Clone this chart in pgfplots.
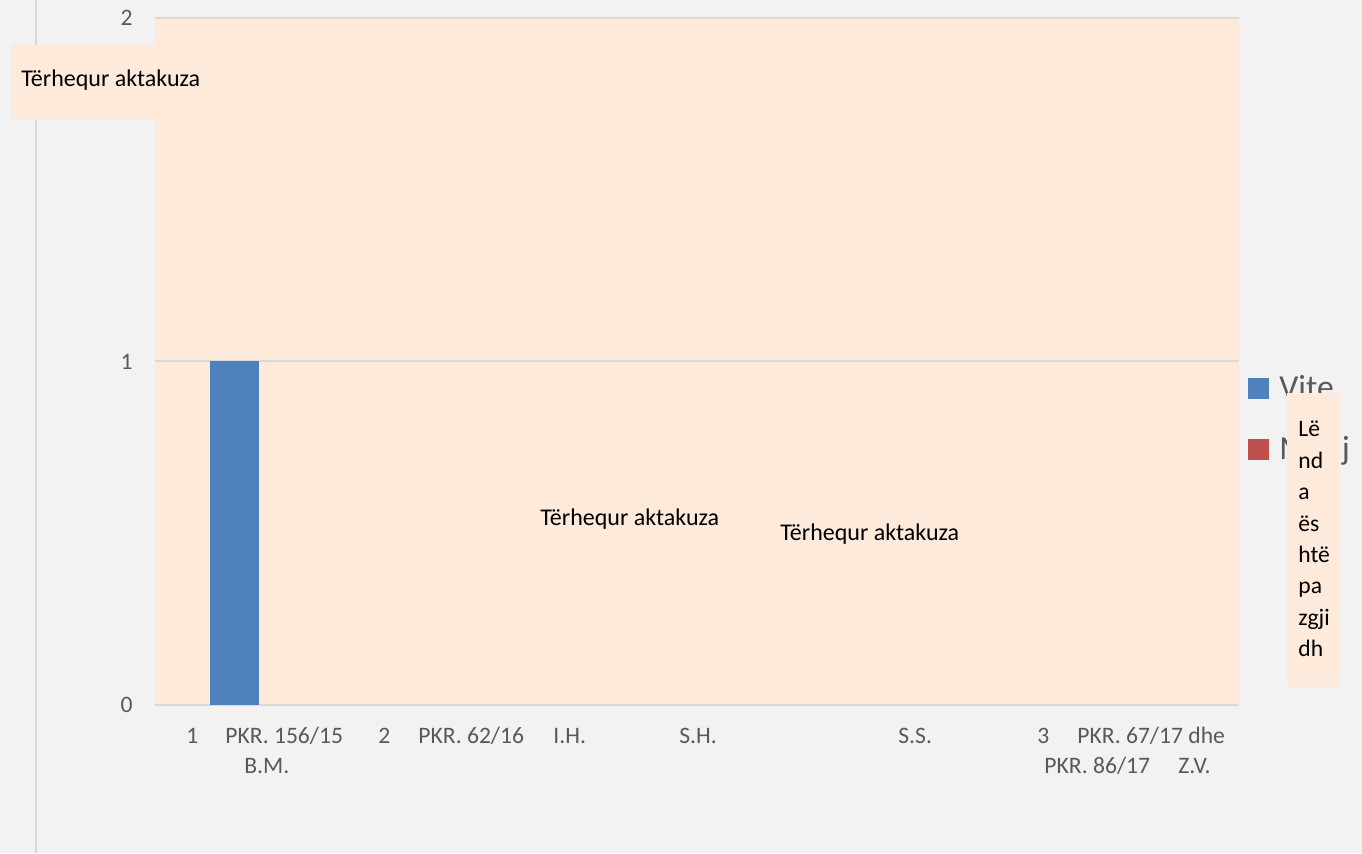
\documentclass[border=0pt]{standalone}
\usepackage{pgfplots}
\pgfplotsset{compat=1.18}
\usepackage{fontspec}
\setmainfont{Carlito}
\definecolor{bg}{HTML}{F2F2F2}
\definecolor{peach}{HTML}{FDEADA}
\definecolor{gridc}{HTML}{D9D9D9}
\definecolor{txt}{HTML}{595959}
\definecolor{vblue}{HTML}{4F81BD}
\definecolor{mred}{HTML}{C0504D}
\newcommand{\lab}{\fontsize{11.8}{14}\selectfont}
\newcommand{\ann}{\fontsize{12}{14}\selectfont}
\newcommand{\leg}{\fontsize{16.8}{20}\selectfont}
\begin{document}
\begin{tikzpicture}
\fill[bg] (0,0) rectangle (681pt,426.5pt);
\useasboundingbox (0,0) rectangle (681pt,426.5pt);
\draw[gridc, line width=1pt] (17.75pt,0) -- (17.75pt,426.5pt);
\begin{axis}[at={(77.5pt,74pt)}, anchor=south west, scale only axis,
  width=542pt, height=343.5pt,
  xmin=155, xmax=1239, ymin=0, ymax=2, ytick={0,1,2}, xtick=\empty,
  axis background/.style={fill=peach},
  ymajorgrids, grid style={gridc, line width=1pt},
  axis x line=bottom, axis y line=left, axis line style={-},
  y axis line style={draw=none},
  x axis line style={gridc, line width=1.3pt},
  major tick length=0pt,
  /pgf/number format/assume math mode=true,
  yticklabel style={font=\lab, text=txt, inner sep=0pt, xshift=-11pt},
  clip=false]
\addplot[ybar, bar width=24.5pt, fill=vblue, draw=none] coordinates {(234.5,1)};
\end{axis}
\begin{scope}[x=0.5pt, y=-0.5pt, shift={(0pt,426.5pt)}]
  % legend
  \fill[vblue] (1248,378) rectangle (1269,399);
  \fill[mred] (1248,439) rectangle (1269,460);
  \node[anchor=base west, inner sep=0pt, text=txt, font=\leg] at (1279,399) {Vite};
  \node[anchor=base west, inner sep=0pt, text=txt, font=\leg] at (1279,460) {Muaj};
  % data label boxes
  \fill[peach] (11,45) rectangle (155,120);
  \node[anchor=base west, inner sep=0pt, font=\ann] at (21,87) {Tërhequr aktakuza};
  \node[anchor=base west, inner sep=0pt, font=\ann] at (540,525) {Tërhequr aktakuza};
  \node[anchor=base west, inner sep=0pt, font=\ann] at (780,540) {Tërhequr aktakuza};
  \fill[peach] (1287,393) rectangle (1340,687);
  \foreach \t [count=\i from 0] in {Lë,nd,a,ës,htë,pa,zgji,dh}
    \node[anchor=base west, inner sep=0pt, font=\lab] at (1298,437+31.4*\i) {\t};
  % category labels
  \begin{scope}[every node/.style={anchor=base west, inner sep=0pt, font=\lab, text=txt}]
    \node at (186,743) {1};
    \node at (225,743) {PKR. 156/15};
    \node at (244,773) {B.M.};
    \node at (378,743) {2};
    \node at (418,743) {PKR. 62/16};
    \node at (553,743) {I.H.};
    \node at (679,743) {S.H.};
    \node at (898,743) {S.S.};
    \node at (1037,743) {3};
    \node at (1077,743) {PKR. 67/17 dhe};
    \node at (1044,773) {PKR. 86/17};
    \node at (1178,773) {Z.V.};
  \end{scope}
\end{scope}
\end{tikzpicture}
\end{document}
